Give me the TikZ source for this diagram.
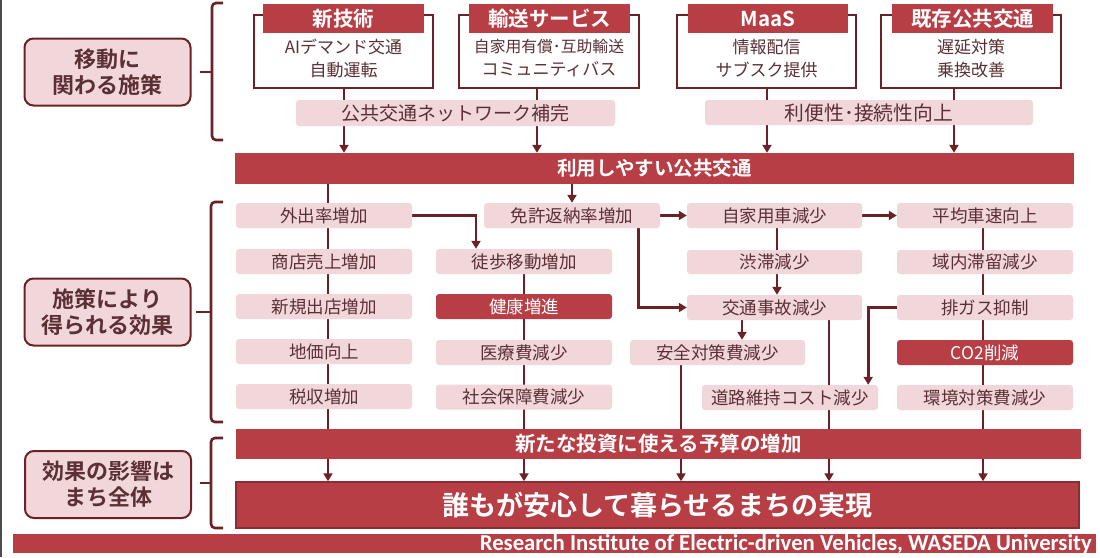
\documentclass[tikz,border=0pt]{standalone}
\usepackage{fontspec}
\usepackage{graphicx}
\usetikzlibrary{arrows.meta,calc}
\newfontfamily\jp{Noto Sans CJK JP}[BoldFont={Noto Sans CJK JP Bold}]
\newfontfamily\ftr{Carlito}
\definecolor{rd}{HTML}{B83E45}
\definecolor{dk}{HTML}{6B2226}
\definecolor{pk}{HTML}{F2D7DA}
\definecolor{tx}{HTML}{5A3034}
\definecolor{fbd}{HTML}{8A2E34}
\pgfdeclarelayer{back}
\pgfdeclarelayer{bg}
\pgfsetlayers{back,bg,main}
\begin{document}
\begin{tikzpicture}[x=1pt,y=-1pt,
  pbox/.style={fill=pk,text=tx,rounded corners=3pt,minimum width=176pt,minimum height=25pt,inner sep=0pt,font=\jp\fontsize{17.5}{20}\selectfont},
  rbox/.style={pbox,fill=rd,text=white},
  lbl/.style={draw=dk,line width=2pt,fill=pk,rounded corners=9pt,minimum width=166pt,minimum height=67pt,inner sep=0pt,align=center,text=tx,font=\jp\bfseries\fontsize{22}{26}\selectfont},
  obox/.style={draw=dk,line width=1.8pt,fill=white,minimum height=73pt,inner sep=0pt},
  hdr/.style={fill=rd,text=white,minimum height=29pt,minimum width=161pt,inner sep=0pt,font=\jp\bfseries\fontsize{20.5}{24}\selectfont},
  body/.style={align=center,text=tx,inner sep=0pt,font=\jp\fontsize{17}{23}\selectfont},
  pbar/.style={fill=pk,text=tx,rounded corners=3pt,inner sep=0pt,font=\jp\fontsize{19}{22}\selectfont},
  bar/.style={fill=rd,text=white,inner sep=0pt,font=\jp\bfseries\fontsize{19.5}{22}\selectfont},
  link/.style={draw=dk,line width=2.8pt},
  arr/.style={link,-{Triangle[length=8pt,width=9pt]}},
  brc/.style={draw=dk,line width=2.6pt,rounded corners=4pt}]
\useasboundingbox (0,0) rectangle (1100,557);
\begin{pgfonlayer}{back}
\fill[white] (0,0) rectangle (1100,557);
\end{pgfonlayer}
\draw[line width=2pt,black!70] (1,0) -- (1,557);

% left labels
\node[lbl] (L1) at (107.5,72) {移動に\\関わる施策};
\node[lbl] (L2) at (107.5,312) {施策により\\得られる効果};
\node[lbl] (L3) at (108,484.5) {効果の影響は\\まち全体};

% braces
\draw[brc] (223,3) -- (212,3) -- (212,140) -- (223,140);
\draw[brc] (200,72) -- (212,72);
\draw[brc] (223,202) -- (211,202) -- (211,422) -- (223,422);
\draw[brc] (196,312) -- (211,312);
\draw[brc] (223,438) -- (211,438) -- (211,528) -- (223,528);
\draw[brc] (200,483) -- (211,483);

% top boxes
\node[obox,minimum width=179pt] (t1) at (343.5,51.5) {};
\node[obox,minimum width=180pt] (t2) at (549,51.5) {};
\node[obox,minimum width=179pt] (t3) at (766.5,51.5) {};
\node[obox,minimum width=180pt] (t4) at (971,51.5) {};
\node[hdr] (h1) at (343.5,18.5) {新技術};
\node[hdr] (h2) at (549.5,18.5) {輸送サービス};
\node[hdr,minimum width=160pt] (h3) at (768,18.5) {MaaS};
\node[hdr] (h4) at (972.5,18.5) {既存公共交通};
\node[body] (b1t) at (343.5,58.5) {AIデマンド交通\\自動運転};
\node[body] (b2t) at (549,58.5) {{\fontsize{15.8}{23}\selectfont 自家用有償･互助輸送}\\コミュニティバス};
\node[body] (b3t) at (766.5,58.5) {情報配信\\サブスク提供};
\node[body] (b4t) at (971,58.5) {遅延対策\\乗換改善};

% pink bars
\node[pbar,minimum width=319pt,minimum height=26pt] (p1) at (455.5,113) {公共交通ネットワーク補完};
\node[pbar,minimum width=328pt,minimum height=25pt,font=\jp\fontsize{19.8}{22}\selectfont] (p2) at (869,112.5) {利便性･接続性向上};

% red bar
\node[bar,minimum width=839pt,minimum height=31pt] (R1) at (654.5,168.5) {利用しやすい公共交通};

% column 1
\node[pbox] (a1) at (324,215.5) {外出率増加};
\node[pbox] (a2) at (324,261.5) {商店売上増加};
\node[pbox] (a3) at (324,306.5) {新規出店増加};
\node[pbox] (a4) at (324,351.5) {地価向上};
\node[pbox] (a5) at (324,396.5) {税収増加};
% column 2
\node[pbox] (b1) at (572,215.5) {免許返納率増加};
\node[pbox] (b2) at (524,261.5) {徒歩移動増加};
\node[rbox] (b3) at (524,306.5) {健康増進};
\node[pbox] (b4) at (524,352.5) {医療費減少};
\node[pbox] (b5) at (524,397) {社会保障費減少};
% column 3
\node[pbox,minimum width=175pt] (c1) at (774.5,215.5) {自家用車減少};
\node[pbox,minimum width=175pt,minimum height=24pt] (c2) at (774.5,262) {渋滞減少};
\node[pbox,minimum width=175pt] (c3) at (774.5,307.5) {交通事故減少};
\node[pbox,minimum width=175pt] (c4) at (717.5,352.5) {安全対策費減少};
\node[pbox] (c5) at (790,397.5) {道路維持コスト減少};
% column 4
\node[pbox] (d1) at (985,215.5) {平均車速向上};
\node[pbox,minimum height=24pt] (d2) at (985,262) {域内滞留減少};
\node[pbox] (d3) at (985,307.5) {排ガス抑制};
\node[rbox] (d4) at (985,352.5) {CO2削減};
\node[pbox] (d5) at (985,397.5) {環境対策費減少};

% bottom bars
\node[bar,minimum width=845pt,minimum height=30pt,font=\jp\bfseries\fontsize{20.5}{24}\selectfont] (B1) at (658.5,444) {新たな投資に使える予算の増加};
\node[bar,draw=fbd,line width=1.5pt,minimum width=843pt,minimum height=46pt,font=\jp\bfseries\fontsize{27}{30}\selectfont] (F) at (657.5,505) {誰もが安心して暮らせるまちの実現};

% footer
\node[fill=rd,minimum width=1083pt,minimum height=19pt,inner sep=0pt] (fb) at (554.5,543.5) {};
\node[anchor=east,text=white,inner sep=0pt] (ft) at (1092,544) {\resizebox{612pt}{!}{\ftr\bfseries Research Institute of Electric-driven Vehicles, WASEDA University}};

% column coordinates
\coordinate (u1) at (344,0);
\coordinate (u2) at (537,0);
\coordinate (u3) at (767,0);
\coordinate (u4) at (954,0);
\coordinate (k1) at (328,0);
\coordinate (k2) at (524,0);
\coordinate (k3) at (681,0);
\coordinate (k4) at (829,0);
\coordinate (k5) at (983,0);
\coordinate (v1) at (777,0);
\coordinate (v2) at (742,0);

\begin{pgfonlayer}{bg}
\draw[arr] (t1.south -| u1) -- (R1.north -| u1);
\draw[arr] (t2.south -| u2) -- (R1.north -| u2);
\draw[arr] (t3.south -| u3) -- (R1.north -| u3);
\draw[arr] (t4.south -| u4) -- (R1.north -| u4);

\draw[link] (R1.south -| k1) -- (B1.north -| k1);
\draw[arr] (R1.south -| b1) -- (b1.north);
\draw[arr] (a1.east) -| ([xshift=-48pt]b2.north);
\draw[link] (b2.south -| k2) -- (B1.north -| k2);
\draw[arr] (b1.east) -- (c1.west);
\draw[arr] ([xshift=-22pt]b1.south east) |- (c3.west);
\draw[arr] (c1.east) -- (d1.west);
\draw[link] (c1.south -| v1) -- (c2.north -| v1);
\draw[arr] (c2.south -| v1) -- (c3.north -| v1);
\draw[arr] (c3.south -| v2) -- (c4.north -| v2);
\draw[link] (c4.south -| k3) -- (B1.north -| k3);
\draw[link] (c3.south -| k4) -- (B1.north -| k4);
\draw[link] (d1.south -| k5) -- (B1.north -| k5);
\draw[arr] (d3.west) -| ([xshift=-10pt]c5.north east);

\draw[arr] (B1.south -| k1) -- (F.north -| k1);
\draw[arr] (B1.south -| k2) -- (F.north -| k2);
\draw[arr] (B1.south -| k3) -- (F.north -| k3);
\draw[arr] (B1.south -| k4) -- (F.north -| k4);
\draw[arr] (B1.south -| k5) -- (F.north -| k5);
\end{pgfonlayer}
\end{tikzpicture}
\end{document}
